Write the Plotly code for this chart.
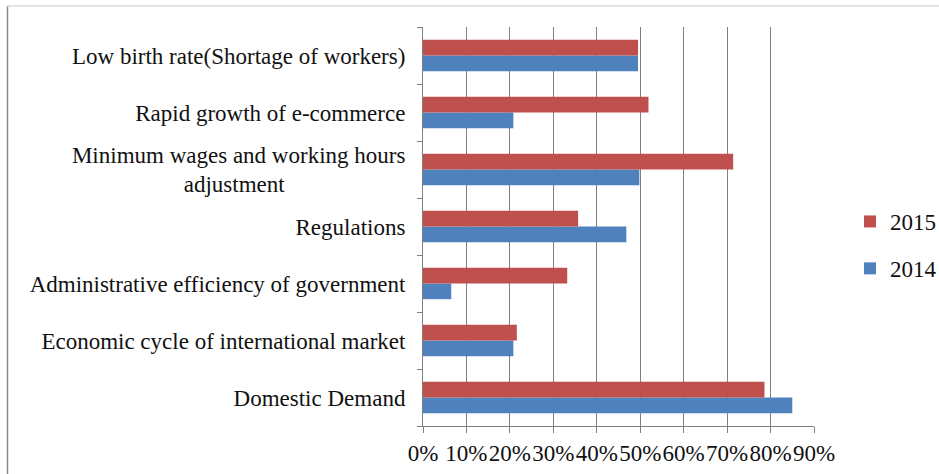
import plotly.graph_objects as go

categories = [
    "Domestic Demand",
    "Economic cycle of international market",
    "Administrative efficiency of government",
    "Regulations",
    "Minimum wages and working hours<br>adjustment" + "\u00a0" * 21,
    "Rapid growth of e-commerce",
    "Low birth rate(Shortage of workers)",
]
values_2014 = [0.85, 0.208, 0.065, 0.468, 0.498, 0.208, 0.495]
values_2015 = [0.786, 0.216, 0.332, 0.357, 0.714, 0.519, 0.495]
tick_vals = [0, 0.1, 0.2, 0.3, 0.4, 0.5, 0.6, 0.7, 0.8, 0.9]
tick_text = ["0%", "10%", "20%", "30%", "40%", "50%", "60%", "70%", "80%", "90%"]

FONT = "Liberation Serif"
W, H = 939, 474
L, R, T, B = 423, 125, 27, 48
pw, ph = W - L - R, H - T - B

fig = go.Figure()
fig.add_trace(go.Bar(y=categories, x=values_2014, orientation="h", name="2014",
                     marker=dict(color="#4F81BD", line=dict(width=0)),
                     legendgroup="a", legendrank=2))
fig.add_trace(go.Bar(y=categories, x=values_2015, orientation="h", name="2015",
                     marker=dict(color="#C0504D", line=dict(width=0)),
                     legendgroup="b", legendrank=1))

def px_x(p):
    return (p - L) / pw

def px_y(p):
    return (H - B - p) / ph

shapes = [
    dict(type="line", xref="paper", yref="paper", x0=px_x(7.5), x1=px_x(7.5),
         y0=px_y(6), y1=px_y(474), line=dict(color="#8a8a8a", width=1.5)),
    dict(type="line", xref="paper", yref="paper", x0=px_x(7), x1=px_x(939),
         y0=px_y(6), y1=px_y(6), line=dict(color="#d9d9d9", width=1.5)),
]

fig.update_layout(
    width=W, height=H,
    margin=dict(l=L, r=R, t=T, b=B, autoexpand=False),
    paper_bgcolor="white", plot_bgcolor="white",
    barmode="group", bargap=0.45, bargroupgap=0,
    font=dict(family=FONT, size=23, color="#111111"),
    shapes=shapes,
    legend=dict(xref="container", yref="container",
                x=850 / W, y=1 - 245 / H, xanchor="left", yanchor="middle",
                traceorder="grouped", tracegroupgap=14,
                font=dict(size=23), itemwidth=30, bgcolor="rgba(0,0,0,0)"),
    xaxis=dict(range=[0, 0.9], tickvals=tick_vals, ticktext=tick_text,
               tickangle=0,
               showgrid=True, gridcolor="#7f7f7f", gridwidth=1,
               showline=True, linecolor="#7f7f7f", linewidth=1,
               ticks="outside", ticklen=6, tickcolor="#7f7f7f",
               zeroline=False, fixedrange=True),
    yaxis=dict(showline=True, linecolor="#7f7f7f", linewidth=1,
               ticks="outside", ticklen=5, tickcolor="#7f7f7f",
               ticklabelstandoff=12,
               tickson="boundaries", showgrid=False, fixedrange=True),
)

fig.write_html("out.html", config={"displayModeBar": False},
               post_script="document.body.style.margin='0';document.body.style.padding='0';")
